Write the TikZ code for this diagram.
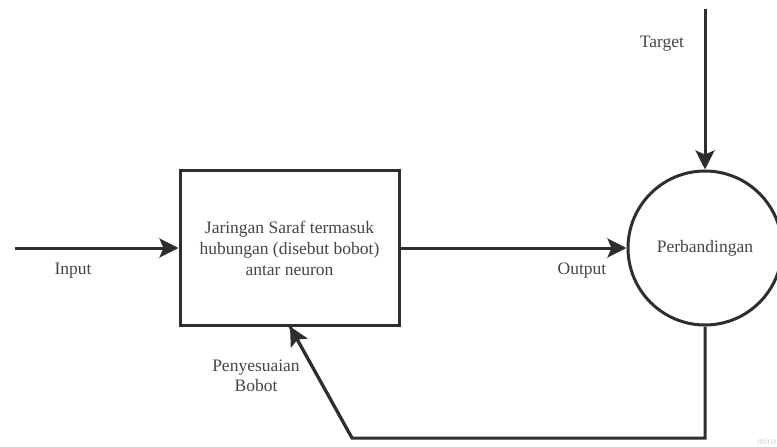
\documentclass[tikz,border=0pt]{standalone}
\usepackage{fontspec}
\setmainfont{Liberation Serif}
\usetikzlibrary{arrows.meta}
\definecolor{linec}{HTML}{2E2E2E}
\definecolor{textc}{HTML}{454545}
\tikzset{
  conn/.style={draw=linec, line width=3pt, -{Stealth[length=19pt,width=19pt,inset=4pt]}},
  plain/.style={draw=linec, line width=3pt},
  lbl/.style={text=textc, font=\fontsize{17.5}{21}\selectfont, inner sep=0pt},
}
\begin{document}
\begin{tikzpicture}[x=1pt,y=-1pt]
\useasboundingbox (0,0) rectangle (777,447);
\clip (0,0) rectangle (777,447);
% box
\node[draw=linec, line width=3pt, minimum width=219pt, minimum height=155pt, inner sep=0pt,
      align=center, text=textc, font=\fontsize{17.5}{21}\selectfont] (nn) at (289.5,248)
  {Jaringan Saraf termasuk\\hubungan (disebut bobot)\\antar neuron};
% circle
\node[draw=linec, line width=3pt, circle, minimum size=154pt, inner sep=0pt,
      text=textc, font=\fontsize{17.5}{21}\selectfont] (cmp) at (705,248) {Perbandingan};
% coordinates
\coordinate (inS) at (15,248);
\coordinate (tgS) at (705,9);
\coordinate (fb1) at (705,438);
\coordinate (fb2) at (352,438);
\coordinate (fbT) at (290,326.5);
% connectors
\draw[conn] (inS) -- (nn.west);
\draw[conn] (nn.east) -- (cmp.west);
\draw[conn] (tgS) -- (cmp.north);
\draw[plain, line join=miter] (cmp.south) -- (fb1) -- (fb2) -- (fbT);
\draw[conn] (fb2) -- (fbT);
% labels
\node[lbl] (lin) at (73,271) {Input};
\node[lbl] (lout) at (582,271) {Output};
\node[lbl] (ltg) at (662,44) {Target};
\node[lbl, align=center, font=\fontsize{17.5}{20}\selectfont] (ladj) at (256,376) {Penyesuaian\\Bobot};
\node[text=black!18, font=\itshape\fontsize{10}{12}\selectfont, anchor=south east, inner sep=0pt] (wm) at (776,445) {miro};
\end{tikzpicture}
\end{document}
